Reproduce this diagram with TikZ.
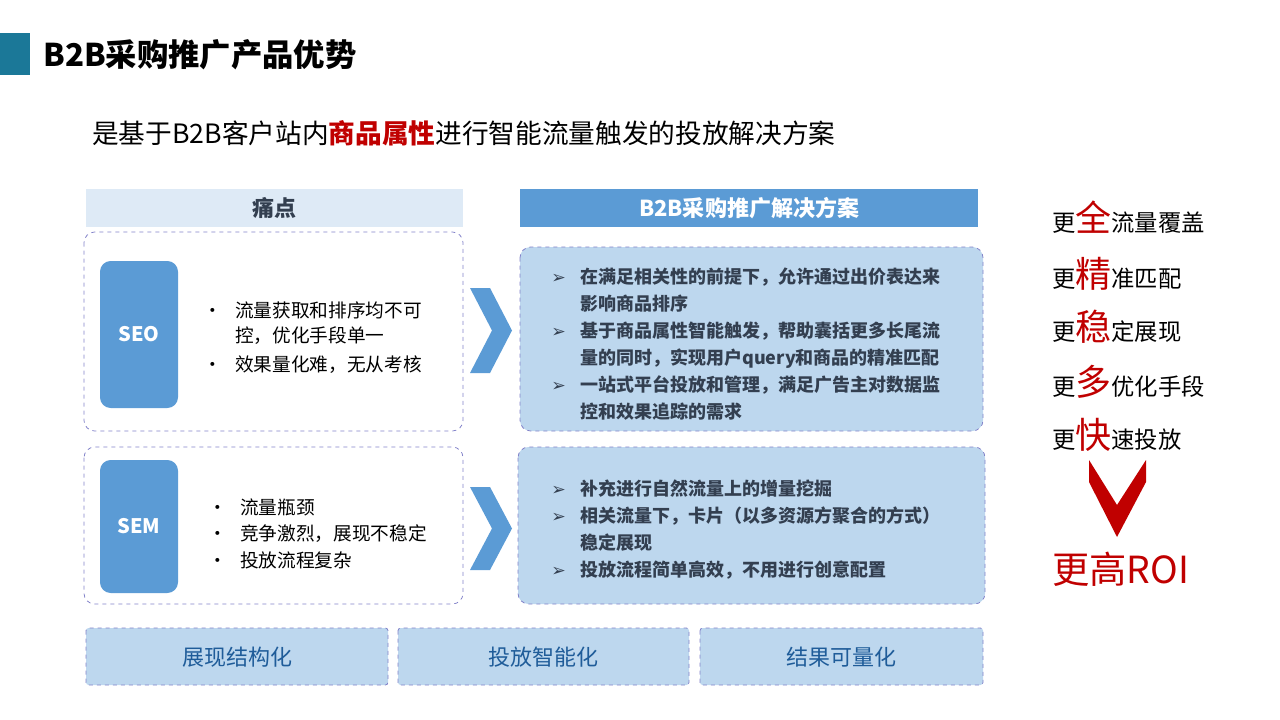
\documentclass[tikz,border=0pt]{standalone}
\usepackage{fontspec}
\setmainfont{Noto Sans CJK SC}
\newfontfamily\dv{DejaVu Sans}
\begin{document}
\begin{tikzpicture}[x=0.75pt,y=-0.75pt,
  dbox/.style={draw=gray!60!blue!70,dashed,rounded corners=8pt,line width=0.6pt},
  sol/.style={dbox,fill=solb},
  tx/.style={anchor=base west,inner sep=0pt},
  btx/.style={tx,font=\fontsize{14}{16}\selectfont},
  stx/.style={tx,font=\bfseries\fontsize{13.5}{15}\selectfont,text=darkg}]
\definecolor{solb}{HTML}{BDD7EE}
\definecolor{midb}{HTML}{5B9BD5}
\definecolor{lightb}{HTML}{DEEAF6}
\definecolor{redc}{HTML}{C00000}
\definecolor{darkg}{HTML}{333F50}
\definecolor{teal}{HTML}{1B7898}
\definecolor{botb}{HTML}{1F5C99}
\useasboundingbox (0,0) rectangle (1280,720);
% title
\fill[teal] (0,33) rectangle (30,75);
\node[tx,font=\bfseries\fontsize{23.5}{25}\selectfont] (title) at (43,67) {B2B采购推广产品优势};
\node[tx,font=\fontsize{20}{22}\selectfont] (sub) at (92,144) {是基于B2B客户站内{\bfseries\color{redc}商品属性}进行智能流量触发的投放解决方案};
% headers
\node[fill=lightb,minimum width=377*0.75pt,minimum height=38*0.75pt,inner sep=0pt,font=\bfseries\fontsize{16.5}{18}\selectfont,text=darkg] (h1) at (274.5,208) {痛点};
\node[fill=midb,minimum width=458*0.75pt,minimum height=38*0.75pt,inner sep=0pt,font=\bfseries\fontsize{16.5}{18}\selectfont,text=white] (h2) at (749,208) {B2B采购推广解决方案};
% SEO
\draw[dbox] (84,232) rectangle (463,431);
\node[fill=midb,rounded corners=8pt,minimum width=78*0.75pt,minimum height=147*0.75pt,inner sep=0pt,text=white,font=\bfseries\fontsize{15}{16}\selectfont] (seo) at (139,334.5) {SEO};
\node[btx] (b1) at (203,317) {•};
\node[btx] (t1) at (235,317) {流量获取和排序均不可};
\node[btx] (t2) at (235,342) {控，优化手段单一};
\node[btx] (b2) at (203,371) {•};
\node[btx] (t3) at (235,371) {效果量化难，无从考核};
\fill[midb] (470,288) -- (490,288) -- (512,330.5) -- (490,373) -- (470,373) -- (492,330.5) -- cycle;
\draw[sol] (520,247) rectangle (983,431);
\foreach \y/\a/\t in {283/1/在满足相关性的前提下，允许通过出价表达来, 310/0/影响商品排序, 337/1/基于商品属性智能触发，帮助囊括更多长尾流, 364/0/量的同时，实现用户query和商品的精准匹配, 391/1/一站式平台投放和管理，满足广告主对数据监, 418/0/控和效果追踪的需求}{
  \node[stx] at (580,\y) {\t};
  \ifnum\a=1 \node[tx,font=\dv\fontsize{13}{14}\selectfont,text=darkg] at (551,\y) {➢};\fi
}
% SEM
\draw[dbox] (84,447) rectangle (463,604);
\node[fill=midb,rounded corners=8pt,minimum width=78*0.75pt,minimum height=133*0.75pt,inner sep=0pt,text=white,font=\bfseries\fontsize{15}{16}\selectfont] (sem) at (139,526.5) {SEM};
\node[btx] at (208,514) {•};
\node[btx] at (240,514) {流量瓶颈};
\node[btx] at (208,540) {•};
\node[btx] at (240,540) {竞争激烈，展现不稳定};
\node[btx] at (208,567) {•};
\node[btx] at (240,567) {投放流程复杂};
\fill[midb] (470,487) -- (490,487) -- (512,528.5) -- (490,570) -- (470,570) -- (492,528.5) -- cycle;
\draw[sol] (518,447) rectangle (985,604);
\foreach \y/\a/\t in {495/1/补充进行自然流量上的增量挖掘, 522/1/相关流量下，卡片（以多资源方聚合的方式）, 549/0/稳定展现, 576/1/投放流程简单高效，不用进行创意配置}{
  \node[stx] at (580,\y) {\t};
  \ifnum\a=1 \node[tx,font=\dv\fontsize{13}{14}\selectfont,text=darkg] at (551,\y) {➢};\fi
}
% bottom
\foreach \xa/\xb/\t in {86/388/展现结构化, 398/689/投放智能化, 700/983/结果可量化}{
  \draw[sol,rounded corners=2pt] (\xa,628) rectangle (\xb,685);
  \node[font=\fontsize{16.5}{18}\selectfont,text=botb] at ({(\xa+\xb)/2},657) {\t};
}
% right
\foreach \y/\b/\r in {232/全/流量覆盖, 287/精/准匹配, 340/稳/定展现, 395/多/优化手段, 448/快/速投放}{
  \node[tx,font=\fontsize{17.5}{19}\selectfont] at (1052,\y) {更{\fontsize{27}{30}\selectfont\color{redc}\b}\r};
}
\fill[redc] (1089,460) -- (1117,505) -- (1146,460) -- (1146,482) -- (1117,537) -- (1089,482) -- cycle;
\node[tx,font=\fontsize{28}{30}\selectfont,text=redc] (roi) at (1052,583) {更高ROI};
\end{tikzpicture}
\end{document}
